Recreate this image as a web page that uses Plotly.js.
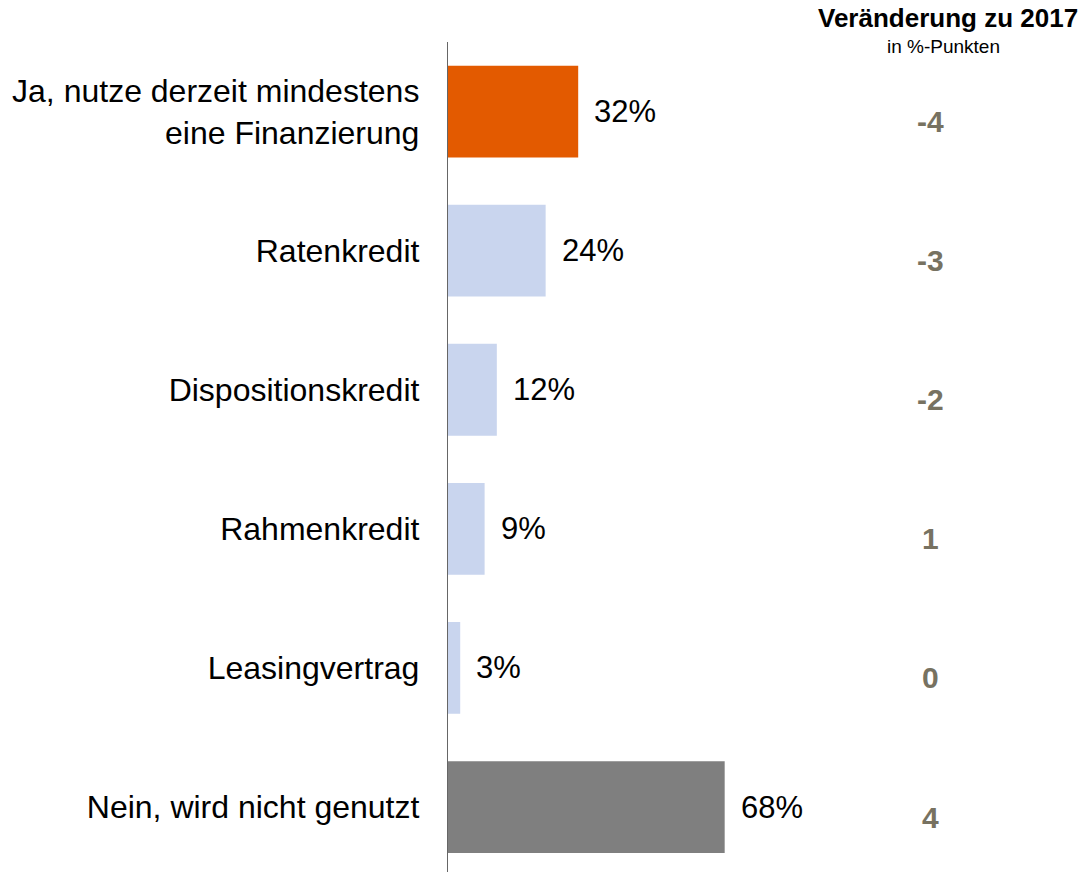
<!DOCTYPE html>
<html>
<head>
<meta charset="utf-8">
<script src="https://cdn.plot.ly/plotly-3.0.1.min.js"></script>
<style>html,body{margin:0;padding:0;background:#fff;}#chart{width:1086px;height:872px;}</style>
</head>
<body>
<div id="chart"></div>
<script>
const categories = ["Ja, nutze derzeit mindestens<br>eine Finanzierung", "Ratenkredit", "Dispositionskredit", "Rahmenkredit", "Leasingvertrag", "Nein, wird nicht genutzt"];
const values = [32, 24, 12, 9, 3, 68];
const valueLabels = ["32%", "24%", "12%", "9%", "3%", "68%"];
const changes = ["-4", "-3", "-2", "1", "0", "4"];
const barColors = ["#e35a00", "#c9d5ee", "#c9d5ee", "#c9d5ee", "#c9d5ee", "#7f7f7f"];
const headerTitle = "Veränderung zu 2017";
const headerSub = "in %-Punkten";

const FONT = "Liberation Sans, Arial, sans-serif";

const trace = {
  type: "bar",
  orientation: "h",
  x: values,
  y: categories,
  width: 0.66,
  marker: {color: barColors, line: {width: 0}},
  hoverinfo: "none"
};

const annotations = [];
categories.forEach((c, i) => {
  annotations.push({
    x: values[i], y: c, xref: "x", yref: "y",
    text: valueLabels[i], showarrow: false,
    xanchor: "left", yanchor: "middle", xshift: 14,
    font: {family: FONT, size: 31, color: "#000"}
  });
  annotations.push({
    x: 0.7555, y: c, xref: "paper", yref: "y",
    text: "<b>" + changes[i] + "</b>", showarrow: false,
    xanchor: "center", yanchor: "middle", yshift: -10,
    font: {family: FONT, size: 30, color: "#777261"}
  });
});

const layout = {
  width: 1086, height: 872,
  margin: {l: 448, r: 0, t: 42, b: 0, pad: 0},
  paper_bgcolor: "#fff", plot_bgcolor: "#fff",
  showlegend: false,
  bargap: 0.34,
  xaxis: {range: [0, 156.8], showgrid: false, zeroline: false, showticklabels: false, showline: false, fixedrange: true},
  yaxis: {
    type: "category",
    range: [5.467, -0.5],
    showgrid: false, zeroline: false,
    showline: true, linecolor: "#666", linewidth: 1.2,
    ticks: "", ticklabelstandoff: 21,
    tickfont: {family: FONT, size: 32, color: "#000"},
    fixedrange: true
  },
  annotations: annotations.concat([
    {x: 1, y: 1, xref: "paper", yref: "paper", xanchor: "right", yanchor: "bottom", yshift: 7, xshift: -6,
     text: "<b>" + headerTitle + "</b>", showarrow: false, font: {family: FONT, size: 26, color: "#000"}},
    {x: 0.777, y: 1, xref: "paper", yref: "paper", xanchor: "center", yanchor: "top", yshift: 8,
     text: headerSub, showarrow: false, font: {family: FONT, size: 19, color: "#000"}}
  ])
};

Plotly.newPlot("chart", [trace], layout, {staticPlot: true, displayModeBar: false});
</script>
</body>
</html>
